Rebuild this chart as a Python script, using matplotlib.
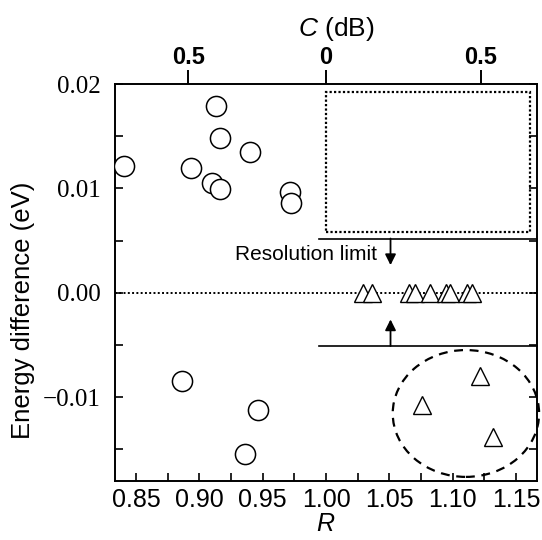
import matplotlib
matplotlib.use("Agg")
import matplotlib.pyplot as plt
from matplotlib.patches import Ellipse, Rectangle
from matplotlib.ticker import MultipleLocator, FixedLocator
import numpy as np

plt.rcParams['font.family'] = ['Liberation Sans', 'DejaVu Sans']
plt.rcParams['mathtext.fontset'] = 'custom'
plt.rcParams['mathtext.it'] = 'Liberation Sans:italic'
plt.rcParams['mathtext.rm'] = 'Liberation Sans'

# circles: (R, energy difference in eV)
circle_R = [0.8406, 0.9131, 0.9166, 0.9398, 0.8932, 0.9097, 0.9166, 0.9715, 0.9725,
            0.8867, 0.9464, 0.9362]
circle_E = [0.01215, 0.01789, 0.01487, 0.01346, 0.0120, 0.01053, 0.00999, 0.00967, 0.00861,
            -0.00842, -0.01122, -0.01544]

# triangles sitting on the zero line
tri_zero_R = [1.0291, 1.0359, 1.0652, 1.0700, 1.0821, 1.0943, 1.0982, 1.1116, 1.1151]
tri_zero_E = [0.0, 0.0, 0.0, 0.0, 0.0, 0.0, 0.0, 0.0, 0.0]

# triangles below the resolution limit
tri_low_R = [1.0757, 1.1218, 1.1320]
tri_low_E = [-0.01072, -0.00797, -0.01384]

# top axis: C in dB
c_tick_db = [-0.5, 0.0, 0.5]
c_tick_labels = ['0.5', '0', '0.5']

res_upper = 0.0052
res_lower = -0.0051

fig = plt.figure(figsize=(5.42, 5.40), dpi=100)
ax = fig.add_axes([0.2122, 0.1098, 0.7786, 0.7346])

ax.plot(circle_R, circle_E, 'o', ms=14.5, mfc='white', mec='black', mew=1.1, zorder=4)
ax.plot(tri_zero_R, tri_zero_E, '^', ms=13, mfc='white', mec='black', mew=1.0, zorder=4)
ax.plot(tri_low_R, tri_low_E, '^', ms=13.5, mfc='white', mec='black', mew=1.0, zorder=4)

# zero line
ax.axhline(0, color='black', ls=(0, (1, 1.2)), lw=1.4, zorder=2)

# dotted box in the upper right
ax.add_patch(Rectangle((1.0, 0.00578), 0.161, 0.0192 - 0.00578, fill=False,
                       ec='black', ls=(0, (1, 1)), lw=1.6, zorder=3))

# resolution limit lines and arrows
ax.plot([0.9945, 1.1665], [res_upper, res_upper], color='black', lw=1.2, clip_on=False)
ax.plot([0.9945, 1.1665], [res_lower, res_lower], color='black', lw=1.2, clip_on=False)
ax.annotate('', xy=(1.0509, 0.00265), xytext=(1.0509, res_upper),
            arrowprops=dict(arrowstyle='-|>', color='black', lw=1.3,
                            mutation_scale=16, shrinkA=0, shrinkB=0))
ax.annotate('', xy=(1.0509, -0.00255), xytext=(1.0509, res_lower),
            arrowprops=dict(arrowstyle='-|>', color='black', lw=1.3,
                            mutation_scale=16, shrinkA=0, shrinkB=0))
ax.text(1.040, 0.0037, 'Resolution limit', ha='right', va='center', fontsize=15)

# dashed circle around the outliers
ax.add_patch(Ellipse((1.1104, -0.01156), 0.1155, 0.01215, fill=False, ec='black',
                     ls=(0, (4, 3)), lw=1.6, clip_on=False, zorder=3))

ax.set_xlim(0.8335, 1.1665)
ax.set_ylim(-0.018, 0.02)

ax.xaxis.set_major_locator(FixedLocator([0.85, 0.90, 0.95, 1.00, 1.05, 1.10, 1.15]))
ax.xaxis.set_minor_locator(MultipleLocator(0.025))
ax.yaxis.set_major_locator(FixedLocator([-0.01, 0.0, 0.01, 0.02]))
ax.yaxis.set_minor_locator(MultipleLocator(0.005))
ax.set_xticklabels(['0.85', '0.90', '0.95', '1.00', '1.05', '1.10', '1.15'], fontsize=18)
ax.set_yticklabels(['\u22120.01', '0.00', '0.01', '0.02'], fontsize=18,
                   family=['Liberation Serif'])

ax.tick_params(which='both', direction='in', top=True, right=True, width=1.2)
ax.tick_params(which='major', length=6)
ax.tick_params(which='minor', length=6)
ax.tick_params(axis='x', which='major', pad=5)
ax.tick_params(axis='y', which='major', pad=10)
for s in ax.spines.values():
    s.set_linewidth(1.4)

ax.set_xlabel('$R$', fontsize=18, labelpad=0)
ax.set_ylabel('Energy difference (eV)', fontsize=18.5)
ax.yaxis.set_label_coords(-0.19, 0.43)

# C (dB) axis on top, R = 10^(C/10)
ax2 = ax.twiny()
ax2.set_xlim(ax.get_xlim())
ax2.set_xticks([10 ** (c / 10) for c in c_tick_db])
ax2.set_xticklabels(c_tick_labels, fontsize=17, fontweight='bold')
ax2.xaxis.set_minor_locator(FixedLocator([]))
ax2.tick_params(axis='x', direction='out', length=10, width=1.4, pad=1)
ax2.set_xlabel('$C$ (dB)', fontsize=19)
ax2.xaxis.set_label_coords(0.524, 1.12)
for s in ax2.spines.values():
    s.set_visible(False)

fig.savefig('out.png', dpi=100)
